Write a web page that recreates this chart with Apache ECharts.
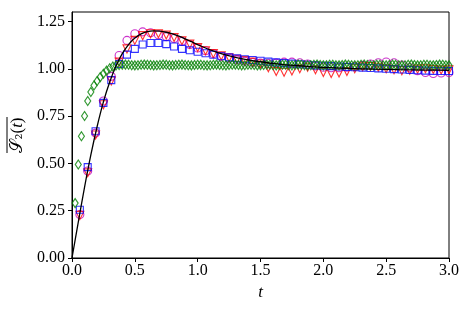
<!DOCTYPE html>
<html><head><meta charset="utf-8">
<script src="https://cdn.jsdelivr.net/npm/echarts@6/dist/echarts.min.js"></script>
<style>html,body{margin:0;padding:0;background:#fff}#c{width:469px;height:310px}</style>
</head><body><div id="c"></div>
<script>
// ---- data ----
var tLine = [0,0.05,0.1,0.15,0.2,0.25,0.3,0.35,0.4,0.45,0.5,0.55,0.6,0.65,0.7,0.75,0.8,0.85,0.9,0.95,1.0,1.1,1.2,1.3,1.4,1.5,1.6,1.7,1.8,1.9,2.0,2.2,2.4,2.6,2.8,3.0];
var sLine = [0,0.19,0.375,0.545,0.695,0.825,0.93,1.015,1.08,1.128,1.162,1.184,1.196,1.2,1.199,1.193,1.184,1.172,1.158,1.143,1.128,1.1,1.077,1.06,1.047,1.037,1.028,1.021,1.016,1.011,1.007,1.002,0.998,0.995,0.993,0.992];

var tMarks = [0.0625,0.125,0.1875,0.25,0.3125,0.375,0.4375,0.5,0.5625,0.625,0.6875,0.75,0.8125,0.875,0.9375,1.0,1.0625,1.125,1.1875,1.25,1.3125,1.375,1.4375,1.5,1.5625,1.625,1.6875,1.75,1.8125,1.875,1.9375,2.0,2.0625,2.125,2.1875,2.25,2.3125,2.375,2.4375,2.5,2.5625,2.625,2.6875,2.75,2.8125,2.875,2.9375,3.0];
var sCircles = [0.23,0.46,0.66,0.83,0.96,1.07,1.15,1.185,1.195,1.19,1.18,1.17,1.16,1.145,1.128,1.11,1.095,1.08,1.066,1.056,1.047,1.04,1.034,1.03,1.028,1.03,1.035,1.035,1.032,1.025,1.015,1.008,1.005,1.005,1.008,1.012,1.018,1.025,1.032,1.036,1.032,1.02,1.005,0.99,0.98,0.975,0.978,0.98];
var sTriangles = [0.225,0.45,0.65,0.81,0.935,1.035,1.105,1.15,1.175,1.185,1.185,1.178,1.165,1.148,1.13,1.112,1.095,1.08,1.068,1.058,1.05,1.043,1.035,1.025,1.005,0.985,0.982,0.988,1.0,1.008,0.995,0.98,0.975,0.978,0.985,1.0,1.01,1.012,1.008,1.0,0.995,0.99,0.992,0.998,1.0,0.996,0.993,0.995];
var sSquares = [0.255,0.48,0.67,0.82,0.94,1.025,1.075,1.105,1.128,1.136,1.136,1.13,1.118,1.105,1.098,1.09,1.082,1.074,1.066,1.06,1.055,1.05,1.046,1.042,1.038,1.034,1.03,1.027,1.024,1.021,1.018,1.016,1.014,1.012,1.01,1.008,1.006,1.004,1.002,1.0,0.998,0.996,0.994,0.992,0.99,0.989,0.988,0.988];

var tDiamonds = [0.025,0.05,0.075,0.1,0.125,0.15,0.175,0.2,0.225,0.25,0.275,0.3,0.325,0.35,0.375,0.4,0.425,0.45,0.475,0.5,0.525,0.55,0.575,0.6,0.625,0.65,0.675,0.7,0.725,0.75,0.775,0.8,0.825,0.85,0.875,0.9,0.925,0.95,0.975,1.0,1.025,1.05,1.075,1.1,1.125,1.15,1.175,1.2,1.225,1.25,1.275,1.3,1.325,1.35,1.375,1.4,1.425,1.45,1.475,1.5,1.525,1.55,1.575,1.6,1.625,1.65,1.675,1.7,1.725,1.75,1.775,1.8,1.825,1.85,1.875,1.9,1.925,1.95,1.975,2.0,2.025,2.05,2.075,2.1,2.125,2.15,2.175,2.2,2.225,2.25,2.275,2.3,2.325,2.35,2.375,2.4,2.425,2.45,2.475,2.5,2.525,2.55,2.575,2.6,2.625,2.65,2.675,2.7,2.725,2.75,2.775,2.8,2.825,2.85,2.875,2.9,2.925,2.95,2.975,3.0];
var sDiamonds = [0.29,0.494,0.643,0.75,0.83,0.877,0.912,0.935,0.956,0.974,0.99,1.003,1.012,1.017,1.02,1.021,1.022,1.021,1.019,1.018,1.019,1.021,1.022,1.021,1.02,1.018,1.019,1.02,1.022,1.021,1.019,1.018,1.02,1.021,1.022,1.02,1.019,1.018,1.02,1.021,1.021,1.019,1.018,1.019,1.021,1.022,1.02,1.019,1.018,1.02,1.021,1.022,1.02,1.018,1.019,1.021,1.021,1.02,1.018,1.019,1.02,1.022,1.021,1.019,1.018,1.02,1.021,1.021,1.019,1.018,1.02,1.022,1.021,1.019,1.018,1.019,1.021,1.022,1.02,1.018,1.019,1.021,1.021,1.019,1.018,1.02,1.022,1.021,1.019,1.018,1.019,1.021,1.022,1.02,1.018,1.019,1.021,1.021,1.019,1.018,1.02,1.022,1.021,1.019,1.018,1.019,1.021,1.022,1.02,1.018,1.019,1.021,1.021,1.019,1.018,1.02,1.022,1.021,1.019,1.018];

var yTicks = [0,0.25,0.5,0.75,1.0,1.25];
var xTicks = [0,0.5,1.0,1.5,2.0,2.5,3.0];

function pairs(xs, ys){ return xs.map(function(x,i){ return [x, ys[i]]; }); }

var FONT = 'Liberation Serif';
var chart = echarts.init(document.getElementById('c'), null, {renderer:'canvas'});
function hollow(color, w){ return {color:'rgba(0,0,0,0)', borderColor:color, borderWidth:w||1.1}; }
var opt = {
  animation:false,
  grid:{left:72, right:20, top:12, bottom:52, show:true, borderColor:'#000', borderWidth:1, backgroundColor:'transparent'},
  xAxis:{type:'value', min:0, max:3, interval:0.5,
    axisLine:{show:true, lineStyle:{color:'#000', width:1}},
    axisTick:{show:true, length:4, inside:false, lineStyle:{color:'#000'}, customValues:xTicks},
    axisLabel:{color:'#000', fontFamily:FONT, fontSize:16, margin:5, customValues:xTicks, formatter:function(v){return v.toFixed(1);}},
    splitLine:{show:false},
    name:'t', nameLocation:'middle', nameGap:17,
    nameTextStyle:{color:'#000', fontFamily:FONT, fontSize:17, fontStyle:'italic'}
  },
  yAxis:{type:'value', min:0, max:1.3,
    axisLine:{show:true, lineStyle:{color:'#000', width:1}},
    axisTick:{show:true, length:4, inside:false, lineStyle:{color:'#000'}, customValues:yTicks},
    axisLabel:{color:'#000', fontFamily:FONT, fontSize:16, margin:7, customValues:yTicks, formatter:function(v){return v.toFixed(2);}},
    splitLine:{show:false}
  },
  graphic:[{
    type:'group', x:18, y:135, rotation:Math.PI/2,
    children:[
      {type:'text', x:0, y:0, style:{
        text:'{s|𝒮}{b|₂}{n|(}{i|t}{n|)}', align:'center', verticalAlign:'middle',
        rich:{
          s:{fontFamily:'DejaVu Sans', fontSize:17, fill:'#000'},
          b:{fontFamily:'DejaVu Serif', fontSize:15, fill:'#000'},
          n:{fontFamily:FONT, fontSize:17, fill:'#000'},
          i:{fontFamily:FONT, fontSize:17, fill:'#000', fontStyle:'italic'}
        }
      }},
      {type:'line', shape:{x1:-18, y1:-11, x2:18, y2:-11}, style:{stroke:'#000', lineWidth:1}}
    ]
  }],
  series:[
    {type:'scatter', data:pairs(tMarks,sCircles), symbol:'circle', symbolSize:8, itemStyle:hollow('#bf00bf'), z:2},
    {type:'scatter', data:pairs(tMarks,sTriangles), symbol:'triangle', symbolRotate:180, symbolSize:8, itemStyle:hollow('#ff0000'), z:3},
    {type:'scatter', data:pairs(tMarks,sSquares), symbol:'rect', symbolSize:7, itemStyle:hollow('#0000ff'), z:4},
    {type:'scatter', data:pairs(tDiamonds,sDiamonds), symbol:'diamond', symbolSize:[6,9], itemStyle:hollow('#008000', 1.2), z:5},
    {type:'line', data:pairs(tLine,sLine), smooth:0.3, showSymbol:false, lineStyle:{color:'#000', width:1.3}, z:6}
  ]
};
chart.setOption(opt);
</script></body></html>
